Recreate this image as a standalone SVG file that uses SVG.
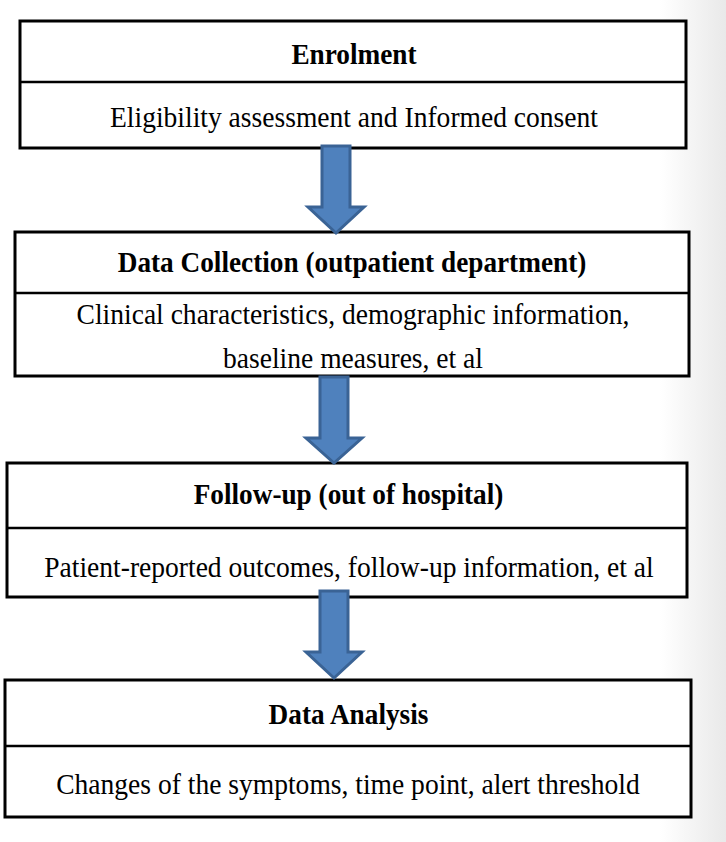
<svg xmlns="http://www.w3.org/2000/svg" width="726" height="842" viewBox="0 0 726 842">
<defs>
<linearGradient id="edge" x1="0" y1="0" x2="1" y2="0">
<stop offset="0" stop-color="#ffffff"/>
<stop offset="1" stop-color="#e9e9e9"/>
</linearGradient>
<style>
.box{fill:#fff;stroke:#000;stroke-width:3}
.div{stroke:#000;stroke-width:2.5}
.t{font-family:'Liberation Serif','Times New Roman',serif;font-size:27px;fill:#000;text-anchor:middle}
.b{font-weight:bold}
.arr{fill:#4f81bd;stroke:#3a6395;stroke-width:3;stroke-linejoin:miter}
</style>
</defs>
<rect x="0" y="0" width="726" height="842" fill="#fff"/>
<rect x="660" y="0" width="66" height="842" fill="url(#edge)"/>
<g id="enrolment">
<rect class="box" x="20" y="21" width="666" height="127"/>
<line class="div" x1="20" y1="82" x2="686" y2="82"/>
<text class="t b" transform="translate(354 63.5) scale(1.01 1.08)">Enrolment</text>
<text class="t" transform="translate(354 126.5) scale(1.02 1.08)">Eligibility assessment and Informed consent</text>
</g>
<g id="data-collection">
<rect class="box" x="15" y="232" width="674" height="144"/>
<line class="div" x1="15" y1="293" x2="689" y2="293"/>
<text class="t b" transform="translate(352 271.5) scale(1.01 1.08)">Data Collection (outpatient department)</text>
<text class="t" transform="translate(353 323.5) scale(1.02 1.08)">Clinical characteristics, demographic information,</text>
<text class="t" transform="translate(353 367.5) scale(1.02 1.08)">baseline measures, et al</text>
</g>
<g id="follow-up">
<rect class="box" x="7" y="463" width="680" height="134"/>
<line class="div" x1="7" y1="528" x2="687" y2="528"/>
<text class="t b" transform="translate(348.5 503.5) scale(1.01 1.08)">Follow-up (out of hospital)</text>
<text class="t" transform="translate(349 576.5) scale(1.02 1.08)">Patient-reported outcomes, follow-up information, et al</text>
</g>
<g id="data-analysis">
<rect class="box" x="5" y="680" width="686" height="137"/>
<line class="div" x1="5" y1="746" x2="691" y2="746"/>
<text class="t b" transform="translate(348.5 723.5) scale(1.01 1.08)">Data Analysis</text>
<text class="t" transform="translate(348 793.5) scale(1.02 1.08)">Changes of the symptoms, time point, alert threshold</text>
</g>
<g id="connectors">
<polygon class="arr" points="322,146 350,146 350,207 364,207 336,233 308,207 322,207"/>
<polygon class="arr" points="320,377 348,377 348,438 362,438 334,463 306,438 320,438"/>
<polygon class="arr" points="320,591 348,591 348,652 362,652 334,678 306,652 320,652"/>
</g>
</svg>
